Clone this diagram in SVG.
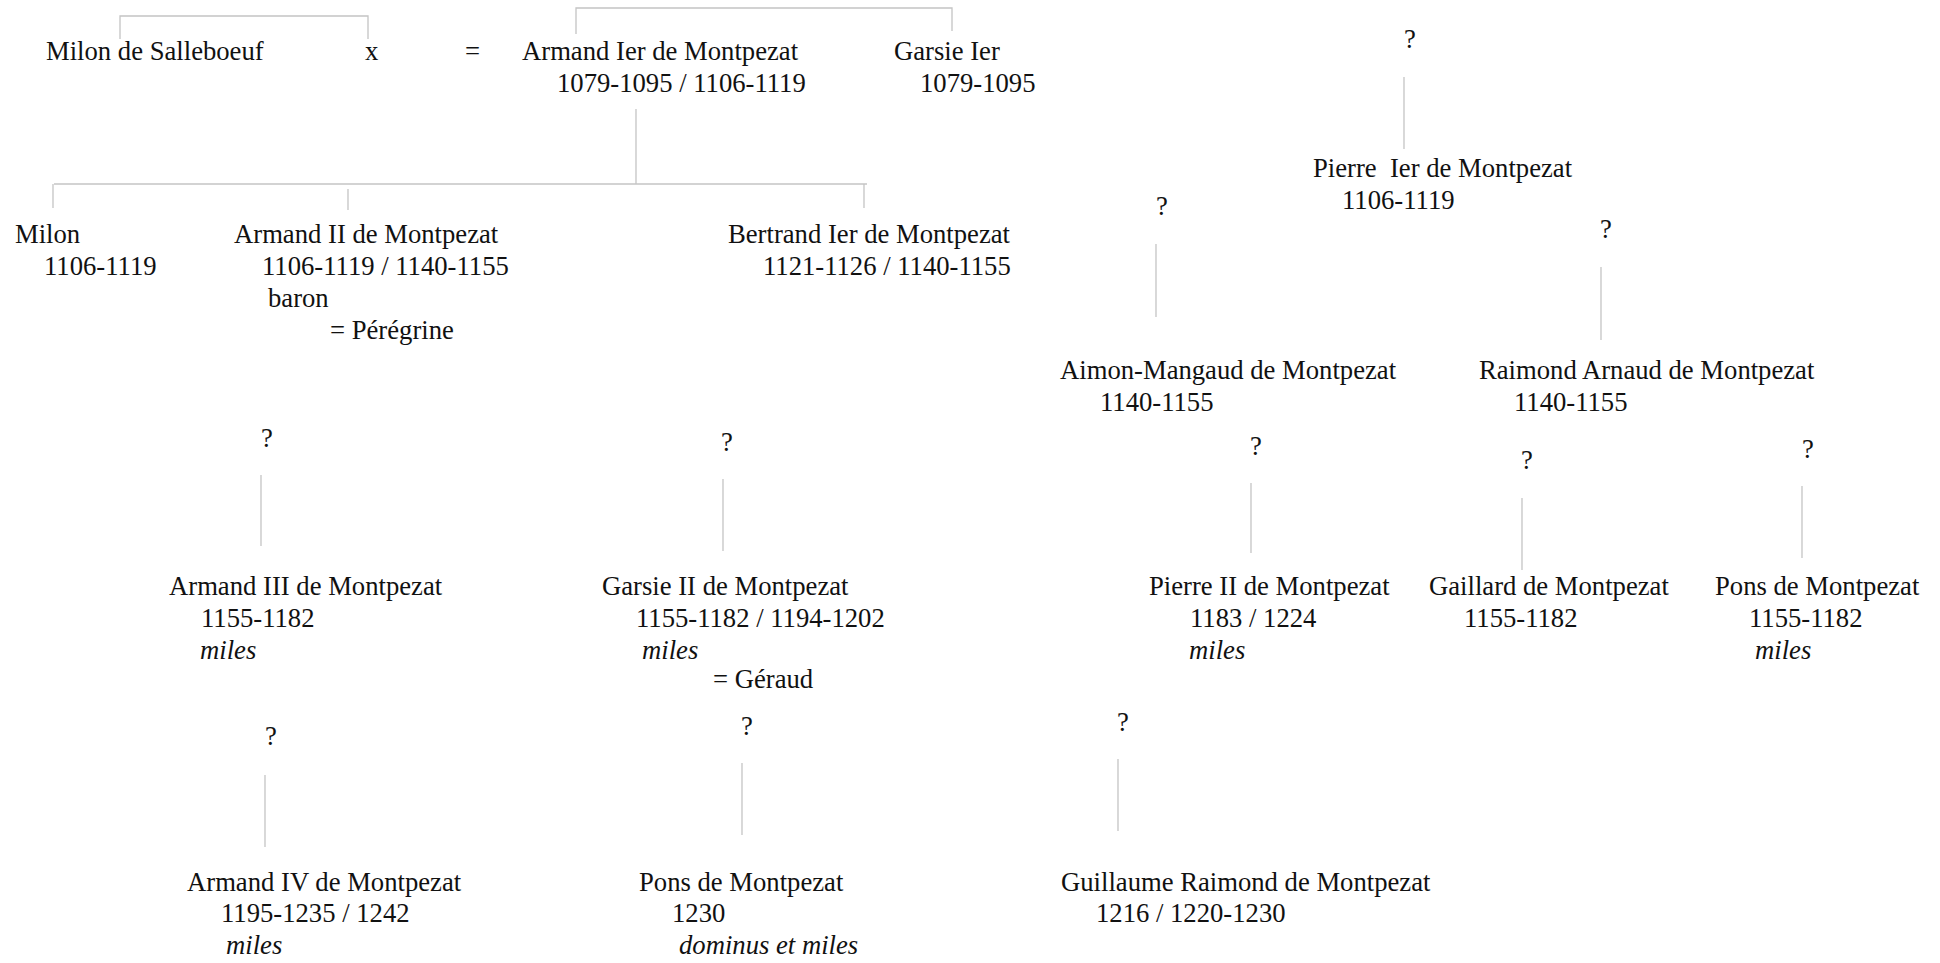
<svg xmlns="http://www.w3.org/2000/svg" width="1940" height="963" viewBox="0 0 1940 963">
<style>
text{font-family:"Liberation Serif","Times New Roman",serif;font-size:26.67px;fill:#111}
.i{font-style:italic}
.c line,.c polyline{stroke:#c4c4c4;stroke-width:1.3;fill:none}
</style>
<rect width="1940" height="963" fill="#fff"/>
<g class="c" id="connectors">
<polyline points="120,39 120,16 368,16 368,39"/>
<polyline points="576,34 576,8 952,8 952,31"/>
<line x1="636" y1="109" x2="636" y2="184"/>
<line x1="54" y1="184" x2="867" y2="184"/>
<line x1="53" y1="184" x2="53" y2="208"/>
<line x1="348" y1="189" x2="348" y2="210"/>
<line x1="864" y1="184" x2="864" y2="208"/>
<line x1="1404" y1="77" x2="1404" y2="149"/>
<line x1="1156" y1="244" x2="1156" y2="317"/>
<line x1="1601" y1="267" x2="1601" y2="340"/>
<line x1="1251" y1="483" x2="1251" y2="553"/>
<line x1="1522" y1="498" x2="1522" y2="570"/>
<line x1="1802" y1="486" x2="1802" y2="558"/>
<line x1="261" y1="475" x2="261" y2="546"/>
<line x1="723" y1="479" x2="723" y2="551"/>
<line x1="265" y1="775" x2="265" y2="847"/>
<line x1="742" y1="763" x2="742" y2="835"/>
<line x1="1118" y1="759" x2="1118" y2="831"/>
</g>
<g id="q-marks">
<text x="1404" y="48">?</text>
<text x="1156" y="215">?</text>
<text x="1600" y="238">?</text>
<text x="1250" y="455">?</text>
<text x="1521" y="469">?</text>
<text x="1802" y="458">?</text>
<text x="261" y="447">?</text>
<text x="721" y="451">?</text>
<text x="265" y="745">?</text>
<text x="741" y="735">?</text>
<text x="1117" y="731">?</text>
</g>
<g id="milon-salleboeuf"><text x="46" y="60">Milon de Salleboeuf</text></g>
<g id="x-spouse"><text x="365" y="60">x</text></g>
<g id="marriage-eq"><text x="465" y="60">=</text></g>
<g id="armand-1"><text x="522" y="60">Armand Ier de Montpezat</text><text x="557" y="92">1079-1095 / 1106-1119</text></g>
<g id="garsie-1"><text x="894" y="60">Garsie Ier</text><text x="920" y="92">1079-1095</text></g>
<g id="pierre-1"><text x="1313" y="177" xml:space="preserve">Pierre  Ier de Montpezat</text><text x="1342" y="209">1106-1119</text></g>
<g id="milon"><text x="15" y="243">Milon</text><text x="44" y="275">1106-1119</text></g>
<g id="armand-2"><text x="234" y="243">Armand II de Montpezat</text><text x="262" y="275">1106-1119 / 1140-1155</text><text x="268" y="307">baron</text><text x="330" y="339">= Pérégrine</text></g>
<g id="bertrand-1"><text x="728" y="243">Bertrand Ier de Montpezat</text><text x="763" y="275">1121-1126 / 1140-1155</text></g>
<g id="aimon"><text x="1060" y="379">Aimon-Mangaud de Montpezat</text><text x="1100" y="411">1140-1155</text></g>
<g id="raimond-arnaud"><text x="1479" y="379">Raimond Arnaud de Montpezat</text><text x="1514" y="411">1140-1155</text></g>
<g id="armand-3"><text x="169" y="595">Armand III de Montpezat</text><text x="201" y="627">1155-1182</text><text class="i" x="200" y="659">miles</text></g>
<g id="garsie-2"><text x="602" y="595">Garsie II de Montpezat</text><text x="636" y="627">1155-1182 / 1194-1202</text><text class="i" x="642" y="659">miles</text><text x="713" y="688">= Géraud</text></g>
<g id="pierre-2"><text x="1149" y="595">Pierre II de Montpezat</text><text x="1190" y="627">1183 / 1224</text><text class="i" x="1189" y="659">miles</text></g>
<g id="gaillard"><text x="1429" y="595">Gaillard de Montpezat</text><text x="1464" y="627">1155-1182</text></g>
<g id="pons-1"><text x="1715" y="595">Pons de Montpezat</text><text x="1749" y="627">1155-1182</text><text class="i" x="1755" y="659">miles</text></g>
<g id="armand-4"><text x="187" y="891">Armand IV de Montpezat</text><text x="221" y="922">1195-1235 / 1242</text><text class="i" x="226" y="954">miles</text></g>
<g id="pons-2"><text x="639" y="891">Pons de Montpezat</text><text x="672" y="922">1230</text><text class="i" x="679" y="954">dominus et miles</text></g>
<g id="guillaume"><text x="1061" y="891">Guillaume Raimond de Montpezat</text><text x="1096" y="922">1216 / 1220-1230</text></g>
</svg>
